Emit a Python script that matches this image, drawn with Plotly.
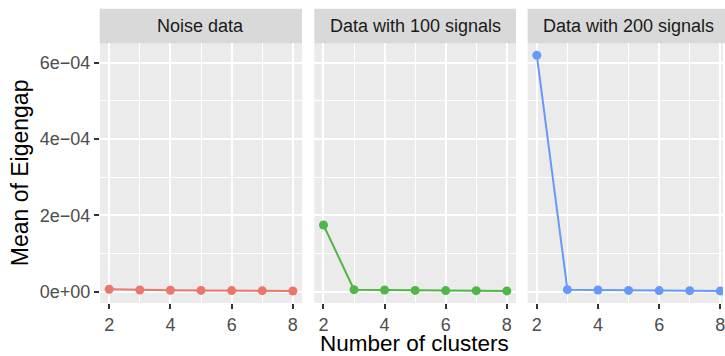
import plotly.graph_objects as go
from plotly.subplots import make_subplots

clusters = [2, 3, 4, 5, 6, 7, 8]
noise_data = [6.5e-6, 4.5e-6, 4.0e-6, 3.5e-6, 3.0e-6, 2.8e-6, 2.0e-6]
signals_100 = [1.75e-4, 5.5e-6, 4.5e-6, 3.5e-6, 3.0e-6, 2.8e-6, 2.2e-6]
signals_200 = [6.2e-4, 5.5e-6, 4.5e-6, 3.5e-6, 3.0e-6, 2.8e-6, 2.2e-6]
panel_titles = ["Noise data", "Data with 100 signals", "Data with 200 signals"]
series = [noise_data, signals_100, signals_200]
colors = ["#EA766C", "#4FB647", "#6799F7"]

y_tickvals = [0, 2e-4, 4e-4, 6e-4]
y_ticktext = ["0e+00", "2e\u221204", "4e\u221204", "6e\u221204"]
y_minor = [1e-4, 3e-4, 5e-4]
x_tickvals = [2, 4, 6, 8]
x_minor = [3, 5, 7]

W, H = 725, 356
ML, MR, MT, MB = 100, 0, 43, 53
PW = W - ML - MR
PH = H - MT - MB

def px_x(p):
    return (p - ML) / PW

def px_y(p):
    return (H - MB - p) / PH

domains = [(99.7, 302.7), (315.0, 517.3), (529.0, 725.0)]
unit_px = 202.5 / 6.6
x_ranges = [[1.7, 8.3], [1.7, 8.3], [1.7, 1.7 + (725.0 - 529.0) / unit_px]]

fig = make_subplots(rows=1, cols=3, shared_yaxes=True, horizontal_spacing=0.02)

FONT = "Liberation Sans, Arial, Helvetica, sans-serif"

for i, (vals, col) in enumerate(zip(series, colors)):
    fig.add_trace(
        go.Scatter(
            x=clusters, y=vals, mode="lines+markers",
            line=dict(color=col, width=2),
            marker=dict(color=col, size=9),
            showlegend=False,
        ),
        row=1, col=i + 1,
    )

for i in range(3):
    d0, d1 = domains[i]
    xa = "xaxis" if i == 0 else f"xaxis{i+1}"
    fig.layout[xa].update(
        domain=[max(0, px_x(d0)), min(1, px_x(d1))],
        range=x_ranges[i],
        tickmode="array", tickvals=x_tickvals,
        ticktext=[str(v) for v in x_tickvals],
        showgrid=True, gridcolor="white", gridwidth=2,
        zeroline=False, showline=False,
        ticks="outside", ticklen=5, tickwidth=1.5, tickcolor="#333333",
        tickfont=dict(family=FONT, size=18, color="#4D4D4D"),
        ticklabeloverflow="allow",
        minor=dict(tickmode="array", tickvals=x_minor, showgrid=True,
                   gridcolor="white", gridwidth=1, ticks=""),
        fixedrange=True,
    )
    ya = "yaxis" if i == 0 else f"yaxis{i+1}"
    fig.layout[ya].update(
        range=[-2.95e-5, 6.52e-4],
        tickmode="array", tickvals=y_tickvals, ticktext=y_ticktext,
        showgrid=True, gridcolor="white", gridwidth=2,
        zeroline=False, showline=False,
        ticks="outside" if i == 0 else "", ticklen=5, tickwidth=1.5,
        tickcolor="#333333",
        showticklabels=(i == 0),
        tickfont=dict(family=FONT, size=18, color="#4D4D4D"),
        minor=dict(tickmode="array", tickvals=y_minor, showgrid=True,
                   gridcolor="white", gridwidth=1, ticks=""),
        fixedrange=True,
    )
    # strip
    fig.add_shape(
        type="rect", xref="paper", yref="paper",
        x0=px_x(d0), x1=px_x(d1) if i < 2 else px_x(731.5),
        y0=px_y(43.3), y1=px_y(8.7),
        fillcolor="#D9D9D9", line=dict(width=0), layer="below",
    )
    cx = (d0 + d1) / 2 if i < 2 else (529.0 + 731.5) / 2
    fig.add_annotation(
        x=px_x(cx), y=px_y(26.0), xref="paper", yref="paper",
        text=panel_titles[i], showarrow=False,
        xanchor="center", yanchor="middle",
        font=dict(family=FONT, size=18, color="#1A1A1A"),
    )

fig.add_annotation(
    x=px_x(416.0), y=px_y(344.0), xref="paper", yref="paper",
    text="Number of clusters", showarrow=False,
    xanchor="center", yanchor="middle",
    font=dict(family=FONT, size=22.5, color="black"),
)
fig.add_annotation(
    x=px_x(20.0), y=px_y(173.0), xref="paper", yref="paper",
    text="Mean of Eigengap", showarrow=False, textangle=-90,
    xanchor="center", yanchor="middle",
    font=dict(family=FONT, size=23, color="black"),
)

fig.update_layout(
    width=W, height=H,
    margin=dict(l=ML, r=MR, t=MT, b=MB, pad=0),
    paper_bgcolor="white", plot_bgcolor="#EBEBEB",
    font=dict(family=FONT),
)

fig.write_html("out.html")
